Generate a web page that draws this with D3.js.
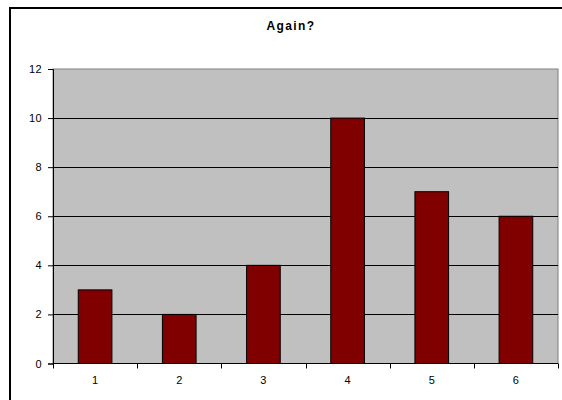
<!DOCTYPE html>
<html>
<head>
<meta charset="utf-8">
<script src="https://cdn.jsdelivr.net/npm/d3@7"></script>
<style>
  html, body { margin: 0; padding: 0; background: #fff; }
  svg { display: block; }
  text { font-family: Arial, "Liberation Sans", sans-serif; }
</style>
</head>
<body>
<svg id="chart" width="562" height="400"></svg>
<script>
const categories = ["1", "2", "3", "4", "5", "6"];
const values = [3, 2, 4, 10, 7, 6];
const yTicks = [0, 2, 4, 6, 8, 10, 12];
const title = "Again?";

const svg = d3.select("#chart");
const plot = { left: 53, top: 69, right: 558, bottom: 363.5 };

// outer chart frame (extends past the right and bottom edges)
svg.append("rect")
  .attr("x", 10).attr("y", 8)
  .attr("width", 600).attr("height", 600)
  .attr("fill", "#fff").attr("stroke", "#000").attr("stroke-width", 2);

const x = d3.scaleBand().domain(categories)
  .range([plot.left, plot.right]).paddingInner(0).paddingOuter(0);
const y = d3.scaleLinear().domain([0, 12]).range([plot.bottom, plot.top]);

// plot background
svg.append("rect")
  .attr("x", plot.left).attr("y", plot.top)
  .attr("width", plot.right - plot.left).attr("height", plot.bottom - plot.top)
  .attr("fill", "#c0c0c0").attr("stroke", "#808080").attr("stroke-width", 1);

// horizontal gridlines
svg.append("g").selectAll("line")
  .data(yTicks.filter(t => t > 0 && t < 12)).join("line")
  .attr("x1", plot.left).attr("x2", plot.right)
  .attr("y1", d => Math.round(y(d)) + 0.5).attr("y2", d => Math.round(y(d)) + 0.5)
  .attr("stroke", "#000").attr("stroke-width", 1);

// bars
const barW = x.bandwidth() * 0.4;
svg.append("g").selectAll("rect")
  .data(values).join("rect")
  .attr("x", (d, i) => x(categories[i]) + (x.bandwidth() - barW) / 2)
  .attr("y", d => y(d))
  .attr("width", barW)
  .attr("height", d => y(0) - y(d))
  .attr("fill", "#800000").attr("stroke", "#000").attr("stroke-width", 1);

// y axis
const yAxis = d3.axisLeft(y).tickValues(yTicks).tickSize(5).tickPadding(6);
const gy = svg.append("g").attr("transform", `translate(${plot.left},0)`).call(yAxis);
gy.select(".domain").attr("stroke", "#000");
gy.selectAll(".tick line").attr("stroke", "#000");
gy.selectAll("text").attr("font-size", 11).attr("letter-spacing", 0.4).attr("fill", "#000");

// x axis: ticks at category boundaries, labels centered in bands
const gx = svg.append("g").attr("transform", `translate(0,${plot.bottom})`);
gx.append("line").attr("x1", plot.left).attr("x2", plot.right)
  .attr("y1", 0).attr("y2", 0).attr("stroke", "#000");
const bounds = categories.map(c => x(c)).concat([plot.right]);
gx.selectAll("line.tk").data(bounds).join("line").attr("class", "tk")
  .attr("x1", d => Math.round(d) + 0.5).attr("x2", d => Math.round(d) + 0.5)
  .attr("y1", 0).attr("y2", 5).attr("stroke", "#000");
gx.selectAll("text").data(categories).join("text")
  .attr("x", d => x(d) + x.bandwidth() / 2)
  .attr("y", 20)
  .attr("text-anchor", "middle")
  .attr("font-size", 11).attr("fill", "#000")
  .text(d => d);

// title
svg.append("text")
  .attr("x", 291).attr("y", 30)
  .attr("text-anchor", "middle")
  .attr("font-size", 12).attr("font-weight", "bold")
  .attr("letter-spacing", 1.4)
  .text(title);
</script>
</body>
</html>
